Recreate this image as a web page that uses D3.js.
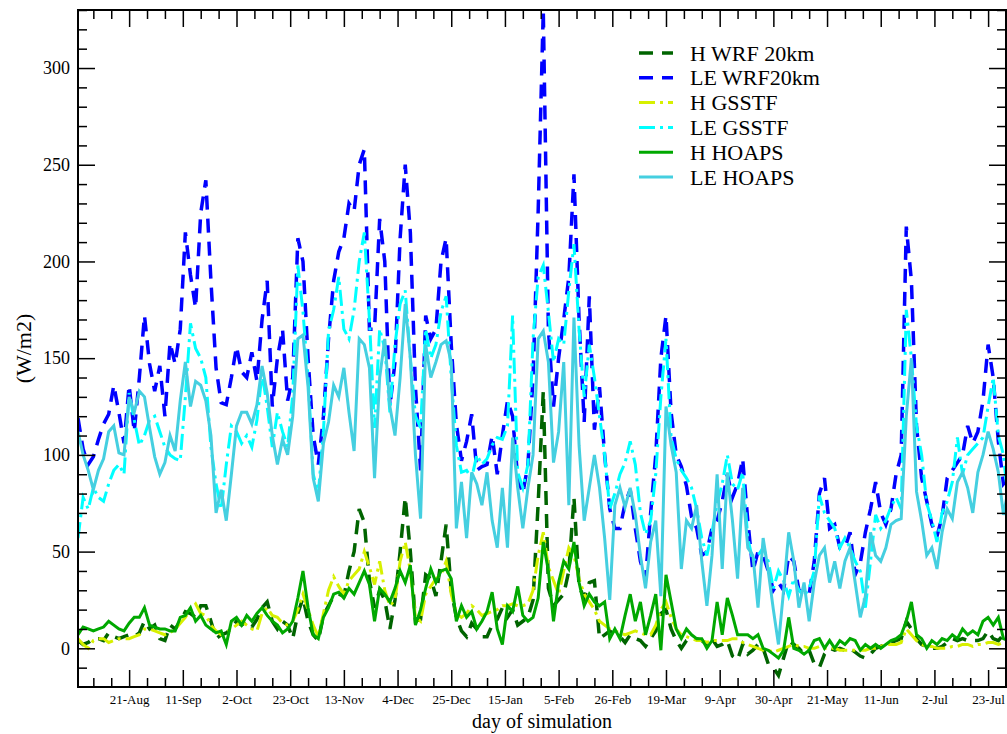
<!DOCTYPE html>
<html>
<head>
<meta charset="utf-8">
<script src="https://cdn.jsdelivr.net/npm/d3@7"></script>
<style>
  body { margin: 0; background: #fff; }
  svg { display: block; }
  svg text { font-family: "Liberation Serif", "Times New Roman", Tinos, "DejaVu Serif", "Noto Serif", serif; }
</style>
</head>
<body>
<div id="chart"></div>
<script>
// daily fluxes, sampled every second day of the simulation (day 0 = 1-Aug)
const days = d3.range(0, 365, 2);

const leWrf = [
  119,103,95,99,108,116,121,136,122,106,
  136,112,140,172,147,133,146,120,158,147,
  165,215,193,176,225,242,190,145,127,126,
  140,156,143,140,153,138,170,190,125,150,
  165,128,140,212,200,150,110,95,120,160,
  190,205,212,230,226,250,258,165,165,222,
  200,125,148,212,250,215,135,92,172,160,
  165,200,212,157,116,97,107,121,92,94,
  95,110,90,110,128,120,88,80,95,140,
  226,330,165,125,150,170,192,245,170,117,
  182,113,135,100,72,62,62,75,82,62,
  45,36,70,100,150,172,122,100,94,84,
  68,62,48,50,62,66,76,90,78,85,
  98,66,40,50,48,40,30,34,30,48,
  45,30,29,28,45,80,88,62,64,52,
  52,60,38,44,60,72,86,70,64,72,
  90,100,218,190,115,88,76,64,58,68,
  88,92,96,100,115,106,112,128,157,140,
  107,85,88
];

const leGsstf = [
  57,78,72,83,78,76,85,92,95,90,
  132,118,105,110,118,120,112,104,100,98,
  97,130,168,155,150,140,104,85,72,95,
  115,112,106,110,104,118,142,125,104,122,
  112,104,131,198,174,140,90,80,112,164,
  175,192,165,160,175,200,215,170,114,165,
  155,122,157,178,185,150,120,114,165,150,
  157,174,182,140,105,91,92,88,100,95,
  98,105,109,108,115,172,91,83,95,160,
  192,198,174,148,160,157,185,209,165,130,
  157,140,120,100,72,80,90,96,107,95,
  70,59,66,90,130,160,109,98,92,88,
  83,72,57,48,60,75,85,100,85,82,
  91,57,45,48,52,45,31,40,35,27,
  36,30,27,31,40,79,70,66,62,52,
  57,52,45,40,21,45,69,62,66,73,
  78,72,175,150,115,100,75,66,55,70,
  76,86,109,90,100,103,106,109,125,140,
  110,100,74
];

const leHoaps = [
  112,100,92,82,92,98,112,115,101,100,
  130,122,133,130,114,99,90,96,110,102,
  128,148,125,138,136,128,110,70,82,66,
  90,115,122,122,116,126,146,132,110,95,
  108,100,120,160,162,135,88,76,106,117,
  136,130,145,122,102,160,157,145,88,140,
  160,125,110,140,178,150,100,67,157,140,
  148,157,159,148,62,86,57,91,85,74,
  91,66,52,83,52,109,83,62,83,100,
  160,164,148,96,112,148,74,171,105,66,
  83,100,83,57,25,74,83,73,83,69,
  48,31,55,66,27,125,105,91,41,66,
  62,74,45,22,48,90,41,91,66,36,
  83,52,48,21,57,40,20,2,30,60,
  45,21,34,14,34,48,52,34,45,31,
  45,52,34,16,27,60,48,45,52,64,
  66,67,120,150,81,66,48,52,41,60,
  72,67,86,91,83,70,91,100,112,103,
  91,69,83
];

const hWrf = [
  4,2,3,5,5,4,8,6,5,6,
  7,6,8,14,10,12,5,4,12,10,
  14,19,18,16,22,22,14,5,7,8,
  10,14,12,14,11,15,21,24,14,10,
  14,12,5,18,26,14,7,4,17,22,
  27,28,27,40,50,72,65,35,21,30,
  25,10,25,50,78,50,14,15,38,36,
  27,45,64,30,16,9,6,13,10,6,
  6,12,15,21,16,20,12,14,16,25,
  75,133,31,22,25,28,40,78,32,26,
  34,35,5,7,9,7,6,3,7,5,
  4,1,5,9,18,20,10,4,0,4,
  5,5,4,2,5,1,2,4,-4,-6,
  2,-3,-1,2,0,-8,-10,-14,-5,4,
  2,0,-3,-1,-8,-10,-3,0,-1,0,
  -1,0,-2,-4,-5,-3,0,1,2,3,
  4,5,14,10,5,2,1,0,0,1,
  3,5,4,5,4,4,4,5,9,5,
  4,7,6
];

const hGsstf = [
  5,2,0,4,5,5,3,4,5,5,
  5,6,7,10,10,9,8,7,8,10,
  13,16,20,23,18,17,12,9,7,8,
  10,12,14,12,10,9,18,21,17,16,
  13,12,14,20,28,20,12,6,18,30,
  37,32,28,35,38,41,50,42,33,45,
  30,22,25,45,55,40,16,14,28,32,
  36,38,45,28,18,16,18,22,20,17,
  18,19,20,22,22,23,22,22,23,30,
  48,60,42,35,28,40,52,48,36,28,
  24,20,14,12,10,9,8,7,8,9,
  8,7,7,12,20,24,16,10,7,6,
  5,4,4,3,4,4,4,4,5,5,
  3,2,1,0,-1,-1,-2,-1,0,1,
  2,1,1,0,0,1,0,0,0,-1,
  -1,-1,-1,-1,-1,0,0,1,2,2,
  2,3,10,7,4,2,1,1,0,0,
  0,1,1,2,2,1,2,2,3,3,
  2,3,4
];

const hHoaps = [
  7,11,10,9,10,11,14,12,10,9,
  13,16,16,21,12,11,10,10,9,9,
  16,17,21,14,17,12,10,8,9,2,
  14,16,12,17,14,18,21,17,14,12,
  8,10,14,26,40,21,7,5,16,21,
  28,29,26,31,28,34,40,33,14,31,
  28,24,31,40,34,43,12,20,31,41,
  34,40,41,36,14,22,16,19,10,14,
  19,29,10,2,22,19,32,17,14,16,
  26,55,40,14,34,45,41,55,34,22,
  28,24,22,24,5,10,5,17,28,14,
  24,7,17,28,-1,38,24,10,5,10,
  7,5,5,0,4,24,7,26,17,7,
  7,7,5,7,0,-1,-3,-5,-1,16,
  0,-1,-3,-1,4,5,0,4,0,4,
  2,5,4,-1,2,0,2,0,2,4,
  5,7,14,24,7,5,0,4,2,5,
  4,7,5,10,7,9,7,14,16,12,
  16,5,4
];

const seriesNames = ["H WRF 20km", "LE WRF20km", "H GSSTF", "LE GSSTF", "H HOAPS", "LE HOAPS"];
const seriesValues = [hWrf, leWrf, hGsstf, leGsstf, hHoaps, leHoaps];
const seriesColors = ["#006400", "#0000ff", "#d7f000", "#00ffff", "#00a800", "#45cfe0"];
const seriesDash = ["14,9", "14,9", "16,5,3,5", "16,5,3,5", null, null];
const seriesWidth = [3.5, 3.5, 3, 3, 3, 3];

const yMajorTicks = [0, 50, 100, 150, 200, 250, 300];
const startDate = new Date(2005, 7, 1);

const serif = '"Liberation Serif", "Times New Roman", Tinos, "DejaVu Serif", "Noto Serif", serif';

const width = 1007, height = 734;
const margin = { top: 10, right: 1, bottom: 47, left: 78 };
const plotW = width - margin.left - margin.right;
const plotH = height - margin.top - margin.bottom;

const svg = d3.select("#chart").append("svg")
    .attr("width", width)
    .attr("height", height)
    .attr("font-family", serif);

const g = svg.append("g")
    .attr("transform", `translate(${margin.left},${margin.top})`);

const x = d3.scaleLinear().domain([0, 363]).range([0, plotW]);
const y = d3.scaleLinear().domain([-20, 330]).range([plotH, 0]);

g.append("clipPath").attr("id", "clip")
  .append("rect").attr("width", plotW).attr("height", plotH);

// lines
const line = d3.line()
    .x((d, i) => x(days[i]))
    .y(d => y(d));

seriesValues.forEach((vals, k) => {
    g.append("path")
        .datum(vals)
        .attr("clip-path", "url(#clip)")
        .attr("d", line)
        .attr("fill", "none")
        .attr("stroke", seriesColors[k])
        .attr("stroke-width", seriesWidth[k])
        .attr("stroke-dasharray", seriesDash[k])
        .attr("stroke-linejoin", "miter");
});

// axes: weekly ticks, labels every third week
const weekTicks = d3.range(6, 364, 7);
const majorX = weekTicks.filter(d => (d - 20) % 21 === 0);
const minorX = weekTicks.filter(d => (d - 20) % 21 !== 0);
const fmt = d3.timeFormat("%-d-%b");
const minorY = d3.range(-10, 331, 10).filter(v => v % 50 !== 0);

function styleAxis(sel) {
    sel.attr("font-family", serif);
    sel.select(".domain").remove();
    sel.selectAll(".tick line").attr("stroke", "#000").attr("stroke-width", 1.5);
    sel.selectAll("text").attr("fill", "#000");
}

g.append("g").attr("transform", `translate(0,${plotH})`)
    .call(d3.axisBottom(x).tickValues(minorX).tickSize(-9).tickSizeOuter(0).tickFormat(""))
    .call(styleAxis);
g.append("g").attr("transform", `translate(0,${plotH})`)
    .call(d3.axisBottom(x).tickValues(majorX).tickSize(-17).tickSizeOuter(0).tickPadding(8)
        .tickFormat(d => fmt(d3.timeDay.offset(startDate, d))))
    .call(styleAxis)
    .attr("font-size", 13);

g.append("g")
    .call(d3.axisTop(x).tickValues(minorX).tickSize(-9).tickSizeOuter(0).tickFormat(""))
    .call(styleAxis);
g.append("g")
    .call(d3.axisTop(x).tickValues(majorX).tickSize(-17).tickSizeOuter(0).tickFormat(""))
    .call(styleAxis);

g.append("g")
    .call(d3.axisLeft(y).tickValues(minorY).tickSize(-9).tickSizeOuter(0).tickFormat(""))
    .call(styleAxis);
g.append("g")
    .call(d3.axisLeft(y).tickValues(yMajorTicks).tickSize(-17).tickSizeOuter(0).tickPadding(8))
    .call(styleAxis)
    .attr("font-size", 18);

g.append("g").attr("transform", `translate(${plotW},0)`)
    .call(d3.axisRight(y).tickValues(minorY).tickSize(-9).tickSizeOuter(0).tickFormat(""))
    .call(styleAxis);
g.append("g").attr("transform", `translate(${plotW},0)`)
    .call(d3.axisRight(y).tickValues(yMajorTicks).tickSize(-17).tickSizeOuter(0).tickFormat(""))
    .call(styleAxis);

// frame
g.append("rect")
    .attr("width", plotW)
    .attr("height", plotH)
    .attr("fill", "none")
    .attr("stroke", "#000")
    .attr("stroke-width", 2);

// axis titles
svg.append("text")
    .attr("x", margin.left + plotW / 2)
    .attr("y", 728)
    .attr("text-anchor", "middle")
    .attr("font-size", 20)
    .text("day of simulation");

svg.append("text")
    .attr("transform", `translate(31,${margin.top + plotH / 2}) rotate(-90)`)
    .attr("text-anchor", "middle")
    .attr("font-size", 22)
    .text("(W/m2)");

// legend
const legend = svg.append("g").attr("transform", "translate(639,53)");
seriesNames.forEach((name, k) => {
    const row = legend.append("g").attr("transform", `translate(0,${k * 24.8})`);
    row.append("line")
        .attr("x1", 0).attr("x2", 34)
        .attr("stroke", seriesColors[k])
        .attr("stroke-width", seriesWidth[k])
        .attr("stroke-dasharray", seriesDash[k]);
    row.append("text")
        .attr("x", 51)
        .attr("y", 7.5)
        .attr("font-size", 22)
        .text(name);
});
</script>
</body>
</html>
